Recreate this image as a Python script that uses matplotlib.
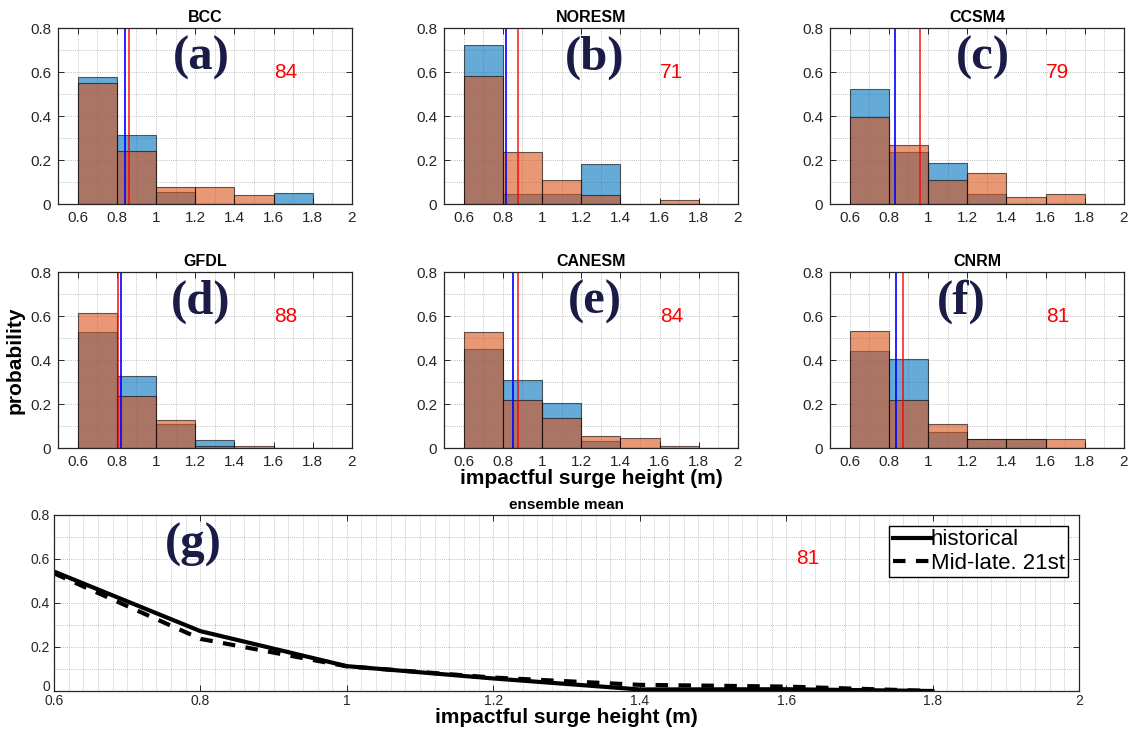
import numpy as np
import matplotlib
matplotlib.use("Agg")
import matplotlib.pyplot as plt
import matplotlib.ticker as ticker

plt.rcParams['font.family'] = ['Liberation Sans', 'DejaVu Sans']

models = ["BCC", "NORESM", "CCSM4", "GFDL", "CANESM", "CNRM"]
letters = ["(a)", "(b)", "(c)", "(d)", "(e)", "(f)"]
letter_x = [1.23, 1.27, 1.28, 1.23, 1.27, 1.17]
bin_left = [0.6, 0.8, 1.0, 1.2, 1.4, 1.6, 1.8]

# historical (blue) and mid-late 21st (orange) probabilities per bin
hist_prob = [
 [0.579, 0.315, 0.053, 0.000, 0.000, 0.052, 0.0],
 [0.724, 0.047, 0.047, 0.180, 0.000, 0.000, 0.0],
 [0.523, 0.238, 0.188, 0.047, 0.000, 0.000, 0.0],
 [0.528, 0.327, 0.110, 0.036, 0.000, 0.000, 0.0],
 [0.449, 0.310, 0.205, 0.032, 0.000, 0.000, 0.0],
 [0.443, 0.406, 0.073, 0.041, 0.041, 0.000, 0.0],
]
fut_prob = [
 [0.552, 0.242, 0.079, 0.079, 0.039, 0.000, 0.0],
 [0.583, 0.238, 0.108, 0.042, 0.000, 0.020, 0.0],
 [0.395, 0.268, 0.111, 0.142, 0.030, 0.047, 0.0],
 [0.613, 0.237, 0.128, 0.008, 0.009, 0.000, 0.0],
 [0.529, 0.217, 0.135, 0.056, 0.046, 0.009, 0.0],
 [0.534, 0.219, 0.110, 0.041, 0.041, 0.043, 0.0],
]
hist_median = [0.842, 0.818, 0.832, 0.821, 0.852, 0.838]
fut_median = [0.860, 0.879, 0.958, 0.804, 0.877, 0.874]
pct = [84, 71, 79, 88, 84, 81]

ens_x = [0.6, 0.8, 1.0, 1.2, 1.4, 1.6, 1.8]
ens_hist = [0.543, 0.272, 0.113, 0.057, 0.007, 0.008, 0.0]
ens_fut = [0.535, 0.237, 0.112, 0.061, 0.028, 0.020, 0.0]
ens_pct = 81

blue = (0.0, 0.447, 0.741)
orange = (0.85, 0.325, 0.098)
navy = "#1b1b48"
axcol = "#262626"


def style_axes(ax):
 for s in ax.spines.values():
  s.set_color(axcol)
  s.set_linewidth(0.9)
 ax.tick_params(direction="in", top=True, right=True, length=4, width=0.7,
                colors=axcol, labelsize=11, pad=5)
 ax.tick_params(which="minor", length=0)
 ax.grid(True, which="both", linestyle=(0, (1, 1.5)), color="#b0b0b0", linewidth=0.6)
 ax.set_axisbelow(True)
 ax.xaxis.set_major_formatter(ticker.StrMethodFormatter("{x:g}"))
 ax.yaxis.set_major_formatter(ticker.StrMethodFormatter("{x:g}"))
 ax.yaxis.set_major_locator(ticker.MultipleLocator(0.2))
 ax.yaxis.set_minor_locator(ticker.MultipleLocator(0.1))


fig = plt.figure(figsize=(11.28, 7.36), dpi=100)
W, H = 1128.0, 736.0
lefts = [58, 444, 830]
tops = [28, 272]
axes = []
for i in range(6):
 r, c = divmod(i, 3)
 ax = fig.add_axes([lefts[c] / W, 1 - (tops[r] + 176) / H, 294 / W, 176 / H])
 axes.append(ax)
 ax.bar(bin_left, hist_prob[i], width=0.2, align="edge", color=blue, alpha=0.6,
        edgecolor="black", linewidth=0.8)
 ax.bar(bin_left, fut_prob[i], width=0.2, align="edge", color=orange, alpha=0.6,
        edgecolor="black", linewidth=0.8)
 ax.axvline(hist_median[i], color="blue", linewidth=1.2)
 ax.axvline(fut_median[i], color="red", linewidth=1.2, alpha=0.85)
 ax.set_xlim(0.5, 2.0)
 ax.set_ylim(0, 0.8)
 ax.xaxis.set_minor_locator(ticker.MultipleLocator(0.1))
 ax.set_xticks([0.6, 0.8, 1.0, 1.2, 1.4, 1.6, 1.8, 2.0])
 style_axes(ax)
 ax.set_title(models[i], fontsize=11.5, fontweight="bold", pad=4)
 ax.text(letter_x[i], 0.665, letters[i], family="Liberation Serif", fontweight="bold",
         fontsize=35, color=navy, ha="center", va="center")
 ax.text(1.66, 0.6, str(pct[i]), color="red", fontsize=15, ha="center", va="center")

axes[3].set_ylabel("probability", fontsize=15, fontweight="bold", labelpad=4)
axes[4].set_xlabel("impactful surge height (m)", fontsize=15, fontweight="bold", labelpad=0)

axg = fig.add_axes([54 / W, 1 - 691 / H, 1025 / W, 176 / H])
axg.plot(ens_x, ens_hist, color="black", linewidth=3, label="historical")
axg.plot(ens_x, ens_fut, color="black", linewidth=3, linestyle=(0, (3, 2.5)),
         label="Mid-late. 21st")
axg.set_xlim(0.6, 2.0)
axg.set_ylim(0, 0.8)
axg.xaxis.set_minor_locator(ticker.MultipleLocator(0.02))
style_axes(axg)
axg.set_xticks([0.6, 0.8, 1.0, 1.2, 1.4, 1.6, 1.8, 2.0])
axg.set_yticks([0, 0.2, 0.4, 0.6, 0.8])
axg.tick_params(axis="y", labelsize=10, pad=3)
axg.tick_params(axis="x", labelsize=10, pad=2)
axg.get_yticklabels()[0].set_va("baseline")
axg.set_title("ensemble mean", fontsize=11, fontweight="bold", pad=4)
axg.set_xlabel("impactful surge height (m)", fontsize=15, fontweight="bold", labelpad=0)
axg.text(0.79, 0.665, "(g)", family="Liberation Serif", fontweight="bold",
         fontsize=35, color=navy, ha="center", va="center")
axg.text(1.63, 0.6, str(ens_pct), color="red", fontsize=15, ha="center", va="center")
leg = axg.legend(loc="upper right", fontsize=16, frameon=True, fancybox=False,
                 handlelength=1.7, handletextpad=0.0, borderpad=0.15, labelspacing=0.1,
                 borderaxespad=0.5)
leg.get_frame().set_edgecolor("black")
leg.get_frame().set_linewidth(1.0)
leg.get_frame().set_alpha(1.0)

fig.savefig("out.png", dpi=100)
